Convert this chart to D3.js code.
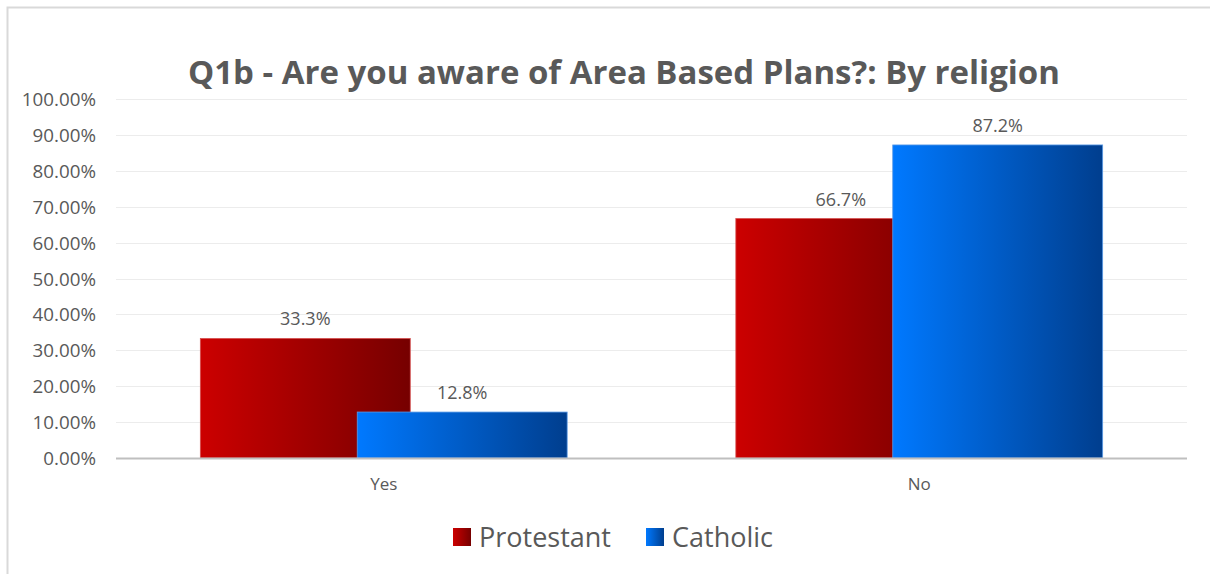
<!DOCTYPE html>
<html><head><meta charset="utf-8">
<script src="https://cdn.jsdelivr.net/npm/d3@7/dist/d3.min.js"></script>
<style>html,body{margin:0;padding:0;background:#fff;}svg{display:block;}</style>
</head><body>
<svg id="c" width="1210" height="574"></svg>
<script>
const title = "Q1b - Are you aware of Area Based Plans?: By religion";
const categories = ["Yes", "No"];
const seriesNames = ["Protestant", "Catholic"];
const protestant = [0.333, 0.667];
const catholic = [0.128, 0.872];
const labelsProtestant = ["33.3%", "66.7%"];
const labelsCatholic = ["12.8%", "87.2%"];
const yTicks = [0, 0.1, 0.2, 0.3, 0.4, 0.5, 0.6, 0.7, 0.8, 0.9, 1.0];

(function () {
const svg = d3.select("#c");
const font = "'Open Sans', 'Liberation Sans', sans-serif";
const textCol = "#595959";

const defs = svg.append("defs");
function grad(id, c0, c1) {
  const g = defs.append("linearGradient").attr("id", id).attr("x1", "0").attr("x2", "1").attr("y1", "0").attr("y2", "0");
  g.append("stop").attr("offset", "0").attr("stop-color", c0);
  g.append("stop").attr("offset", "1").attr("stop-color", c1);
}
grad("gRed", "#cc0000", "#760000");
grad("gBlue", "#0079ff", "#003e8e");
const fills = ["url(#gRed)", "url(#gBlue)"];
const strokes = ["#d65050", "#5a9ae6"];

// frame
svg.append("rect").attr("x", 7.5).attr("y", 7.5).attr("width", 1220).attr("height", 620)
  .attr("fill", "none").attr("stroke", "#d9d9d9").attr("stroke-width", 2);

const pLeft = 116, pRight = 1187, pTop = 99, pBottom = 458;
const y = d3.scaleLinear().domain([0, 1]).range([pBottom, pTop]);
const x0 = d3.scaleBand().domain(categories).range([pLeft, pRight]).padding(0);

// gridlines
svg.append("g").selectAll("line").data(yTicks.filter(d => d > 0)).join("line")
  .attr("x1", pLeft).attr("x2", pRight)
  .attr("y1", d => Math.round(y(d)) + 0.5).attr("y2", d => Math.round(y(d)) + 0.5)
  .attr("stroke", "#ececec").attr("stroke-width", 1);

// y axis
const yAxis = d3.axisLeft(y).tickValues(yTicks).tickFormat(d3.format(".2%")).tickSize(0).tickPadding(20);
const gy = svg.append("g").attr("transform", `translate(${pLeft},0)`).call(yAxis);
gy.select(".domain").remove();
gy.selectAll("text").attr("fill", textCol).style("font-family", font).style("font-size", "18.8px").attr("dy", "0.35em");

// bars
const step = x0.step();
const barW = step * 0.392;
const offset = step * 0.293;
const series = [protestant, catholic];
const labels = [labelsProtestant, labelsCatholic];
series.forEach((vals, si) => {
  const g = svg.append("g");
  g.selectAll("rect").data(categories).join("rect")
    .attr("x", (c) => x0(c) + step / 2 - (offset + barW) / 2 + si * offset)
    .attr("width", barW)
    .attr("y", (c, i) => y(vals[i]))
    .attr("height", (c, i) => pBottom - y(vals[i]))
    .attr("fill", fills[si])
    .attr("stroke", strokes[si]).attr("stroke-width", 0.8);
});
series.forEach((vals, si) => {
  svg.append("g").selectAll("text").data(categories).join("text")
    .attr("x", (c) => x0(c) + step / 2 - (offset + barW) / 2 + si * offset + barW / 2)
    .attr("y", (c, i) => y(vals[i]) - 13)
    .attr("text-anchor", "middle").attr("fill", textCol)
    .style("font-family", font).style("font-size", "18px")
    .text((c, i) => labels[si][i]);
});

// x axis line
svg.append("line").attr("x1", pLeft).attr("x2", pRight).attr("y1", pBottom + 0.5).attr("y2", pBottom + 0.5)
  .attr("stroke", "#bfbfbf").attr("stroke-width", 2);
const xAxis = d3.axisBottom(x0).tickSize(0).tickPadding(20);
const gx = svg.append("g").attr("transform", `translate(0,${pBottom})`).call(xAxis);
gx.select(".domain").remove();
gx.selectAll("text").attr("fill", textCol).style("font-family", font).style("font-size", "17px");

// title
const t = svg.append("text").attr("x", 624).attr("y", 84).attr("text-anchor", "middle")
  .attr("fill", textCol).style("font-family", font).style("font-weight", "bold").style("font-size", "28px")
  .text(title);
const tw = t.node().getComputedTextLength();
t.style("font-size", (28 * 872 / tw) + "px");

// legend
const legX = [453, 646];
seriesNames.forEach((n, i) => {
  svg.append("rect").attr("x", legX[i]).attr("y", 528).attr("width", 18).attr("height", 18).attr("fill", fills[i]);
  svg.append("text").attr("x", legX[i] + 26).attr("y", 547).attr("fill", textCol)
    .style("font-family", font).style("font-size", "27px").text(n);
});
})();
</script>
</body></html>
